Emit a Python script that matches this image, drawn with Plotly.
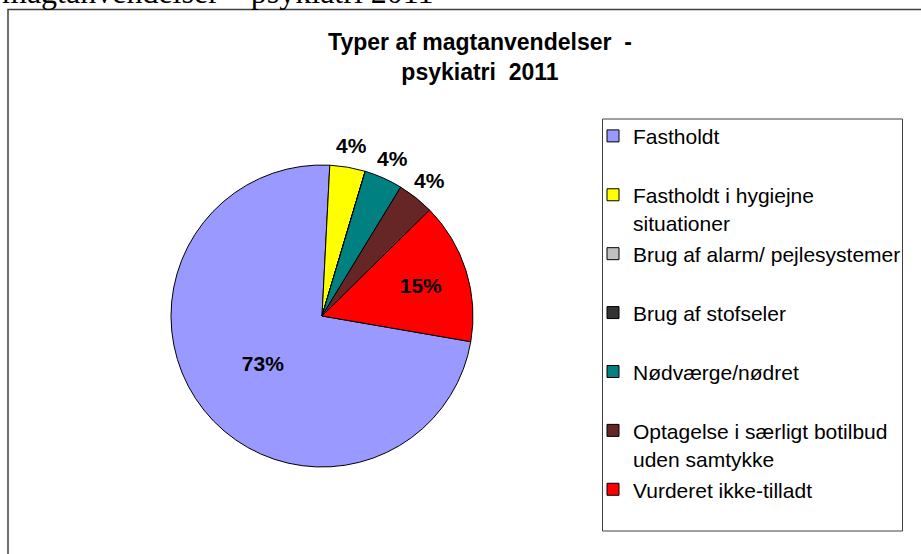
import plotly.graph_objects as go

# data (share of all registered cases, %)
categories = [
    "Fastholdt",
    "Fastholdt i hygiejne\nsituationer",
    "Brug af alarm/ pejlesystemer",
    "Brug af stofseler",
    "Nødværge/nødret",
    "Optagelse i særligt botilbud\nuden samtykke",
    "Vurderet ikke-tilladt",
]
shares = [73.1, 3.8, 0, 0, 4.1, 3.9, 15.1]
colors = ["#9999FF", "#FFFF00", "#C0C0C0", "#333333", "#008080", "#662626", "#FF0000"]
# big slices carry their label inside, the thin ones get it just outside the rim
inner_labels = ["inside", "none", "none", "none", "none", "none", "inside"]
outer_labels = ["none", "inside", "none", "none", "inside", "inside", "none"]

title_lines = ["Typer af magtanvendelser\u00a0 -", "psykiatri\u00a0 2011"]
page_heading = "magtanvendelser \u2013 psykiatri 2011"

W, H = 921, 554
FONT = "Arial, Liberation Sans, sans-serif"
CX, CY, R = 322, 316, 151


def px_x(x):
    return x / W


def px_y(y):
    return 1 - y / H


def circle_domain(r):
    return dict(x=[px_x(CX - r), px_x(CX + r)], y=[px_y(CY + r), px_y(CY - r)])


# legend entries: every entry takes two lines so the rows are evenly spaced
def legend_label(name):
    lines = name.split("\n")
    if len(lines) == 1:
        lines.append("\u00a0")
    return "<br>".join('<span style="font-size:21px">{}</span>'.format(l) for l in lines)


labels = [legend_label(c) for c in categories]
label_font = dict(family=FONT, size=21, color="black", weight="bold")

fig = go.Figure()

fig.add_trace(go.Pie(
    labels=labels,
    values=shares,
    sort=False,
    direction="clockwise",
    rotation=99.8,
    marker=dict(colors=colors, line=dict(color="black", width=1)),
    texttemplate="%{percent:.0%}",
    textposition=inner_labels,
    insidetextorientation="horizontal",
    textfont=label_font,
    insidetextfont=label_font,
    domain=circle_domain(R),
    hoverinfo="label+percent",
))

# transparent ring around the pie that holds the labels of the thin slices
fig.add_trace(go.Pie(
    labels=labels,
    values=shares,
    sort=False,
    direction="clockwise",
    rotation=99.8,
    hole=0.8,
    marker=dict(colors=["rgba(0,0,0,0)"] * len(shares), line=dict(width=0)),
    texttemplate="%{percent:.0%}",
    textposition=outer_labels,
    insidetextorientation="horizontal",
    textfont=label_font,
    insidetextfont=label_font,
    domain=circle_domain(192),
    showlegend=False,
    hoverinfo="skip",
))

# chart frame and legend box
fig.add_shape(type="rect", xref="paper", yref="paper",
              x0=px_x(8), x1=px_x(940), y0=px_y(580), y1=px_y(9.5),
              line=dict(color="#404040", width=1.5))
fig.add_shape(type="rect", xref="paper", yref="paper",
              x0=px_x(602.5), x1=px_x(902.5), y0=px_y(531), y1=px_y(119),
              line=dict(color="#404040", width=1))

# heading of the page above the chart, cut off by the top edge
fig.add_annotation(text=page_heading, xref="paper", yref="paper",
                   x=0, y=px_y(12), xanchor="left", yanchor="bottom",
                   showarrow=False,
                   font=dict(family="Times New Roman, Liberation Serif, serif", size=32, color="black"))

fig.update_layout(
    width=W, height=H,
    margin=dict(l=0, r=0, t=0, b=0),
    paper_bgcolor="white",
    plot_bgcolor="white",
    uniformtext=dict(minsize=21, mode="show"),
    title=dict(text="<br>".join(title_lines), x=px_x(480), xanchor="center",
               y=px_y(50), yanchor="top", yref="container",
               font=dict(family=FONT, size=23, color="black", weight="bold")),
    legend=dict(x=px_x(593), y=px_y(115.4), xanchor="left", yanchor="top",
                bgcolor="rgba(0,0,0,0)", borderwidth=0, valign="top",
                font=dict(family=FONT, size=21.5, color="black")),
    showlegend=True,
)

# the page itself should not add a margin around the figure
fig.write_html("out.html", config={"displayModeBar": False},
               post_script="document.body.style.margin = '0';")
